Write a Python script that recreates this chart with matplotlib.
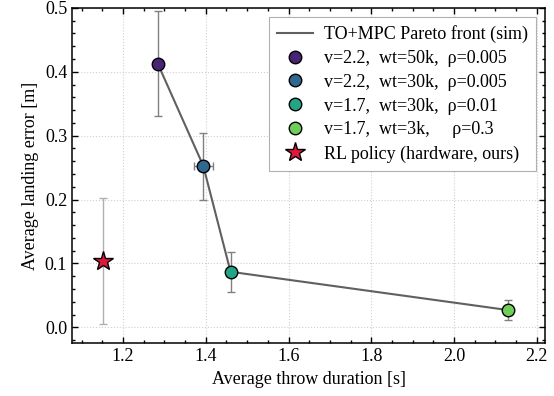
import matplotlib
matplotlib.use("Agg")
import matplotlib.pyplot as plt
from matplotlib.ticker import AutoMinorLocator

# Pareto front points (TO+MPC, sim)
dur = [1.284, 1.394, 1.460, 2.131]
dur_err = [0.0, 0.023, 0.0, 0.0]
err = [0.413, 0.253, 0.087, 0.027]
err_lo = [0.331, 0.200, 0.056, 0.011]
err_hi = [0.495, 0.304, 0.118, 0.043]
labels = ["v=2.2,  wt=50k,  \u03c1=0.005",
          "v=2.2,  wt=30k,  \u03c1=0.005",
          "v=1.7,  wt=30k,  \u03c1=0.01",
          "v=1.7,  wt=3k,     \u03c1=0.3"]
colors = ["#482475", "#31688e", "#21a585", "#6ece58"]

# RL policy (hardware)
rl_dur = 1.153
rl_err = 0.104
rl_lo = 0.006
rl_hi = 0.203

plt.rcParams["font.family"] = ["Liberation Serif", "DejaVu Serif"]
plt.rcParams["font.size"] = 13

fig = plt.figure(figsize=(5.54, 3.96), dpi=100)
ax = fig.add_axes([0.130, 0.133, 0.854, 0.847])

ax.plot(dur, err, color="#606060", lw=1.5, label="TO+MPC Pareto front (sim)", zorder=2)
for i in range(len(dur)):
	ax.errorbar(dur[i], err[i], yerr=[[err[i] - err_lo[i]], [err_hi[i] - err[i]]],
				xerr=dur_err[i] if dur_err[i] > 0 else None,
				fmt="none", ecolor="#808080", elinewidth=1, capsize=3, zorder=1)
	ax.plot(dur[i], err[i], "o", ms=9, color=colors[i], mec="black", mew=1,
			label=labels[i], zorder=3, linestyle="none")

ax.errorbar(rl_dur, rl_err, yerr=[[rl_err - rl_lo], [rl_hi - rl_err]], fmt="none",
			ecolor="#b0b0b0", elinewidth=1, capsize=3, zorder=1)
ax.plot(rl_dur, rl_err, "*", ms=15, color="#e0183c", mec="black", mew=1,
		label="RL policy (hardware, ours)", zorder=3, linestyle="none")

ax.set_xlim(1.077, 2.22)
ax.set_ylim(-0.025, 0.5)
ax.set_xticks([1.2, 1.4, 1.6, 1.8, 2.0, 2.2])
ax.set_yticks([0.0, 0.1, 0.2, 0.3, 0.4, 0.5])
ax.xaxis.set_minor_locator(AutoMinorLocator(4))
ax.yaxis.set_minor_locator(AutoMinorLocator(5))
ax.tick_params(which="both", direction="in", top=True, right=True, width=1)
ax.tick_params(which="major", length=4.5)
ax.tick_params(which="minor", length=2.5)
for s in ax.spines.values():
	s.set_linewidth(1.1)
ax.grid(True, linestyle=":", color="#d0d0d0", lw=0.8)
ax.set_axisbelow(True)

ax.set_xlabel("Average throw duration [s]")
ax.set_ylabel("Average landing error [m]")

leg = ax.legend(loc="upper right", fancybox=False, edgecolor="#b0b0b0",
				framealpha=1, handlelength=2.0, borderaxespad=0.5,
				labelspacing=0.38, handletextpad=0.6, borderpad=0.45)
leg.get_frame().set_linewidth(0.8)

plt.savefig("out.png", dpi=100)
